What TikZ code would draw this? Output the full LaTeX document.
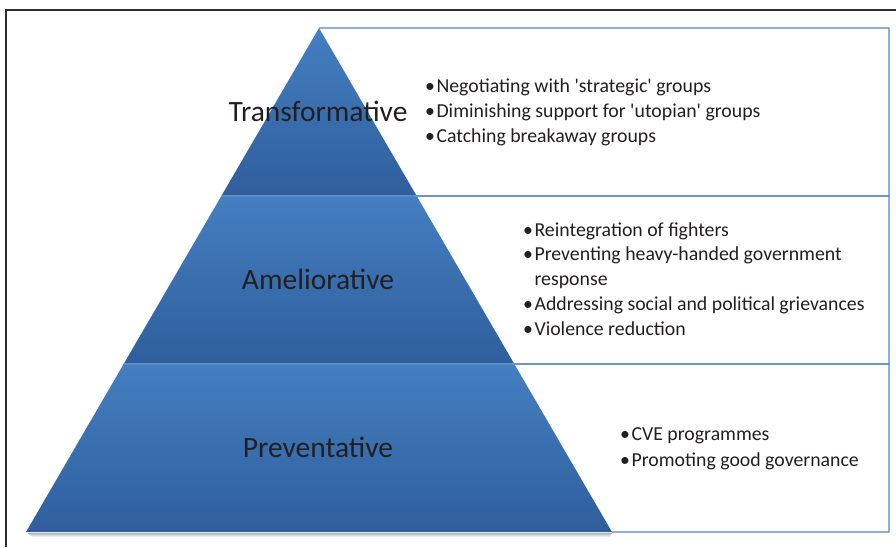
\documentclass[tikz,border=0pt]{standalone}
\usepackage{fontspec}
\setmainfont{Carlito}
\usetikzlibrary{calc}

\definecolor{framegray}{RGB}{45,45,45}
\definecolor{boxblue}{RGB}{86,134,192}
\definecolor{txtgray}{RGB}{35,31,32}
\definecolor{bandtop}{RGB}{68,127,193}
\definecolor{bandmid}{RGB}{42,110,180}
\definecolor{bandbot}{RGB}{47,94,156}
\definecolor{seplight}{RGB}{96,140,200}

\newcommand\sq[1]{\textquotesingle#1\textquotesingle}
\newcommand\bul{\textbullet\hspace{1.5pt}}
\def\bandsep{168}

\begin{document}
\begin{tikzpicture}[
    x=1pt, y=-1pt,
    frame/.style={draw=framegray, line width=1.3pt},
    box/.style={draw=boxblue, line width=1.2pt},
    band/.style={top color=bandtop, middle color=bandmid, bottom color=bandbot},
    sepline/.style={draw=seplight, line width=1.5pt},
    level/.style={font=\fontsize{29.5}{35}\selectfont, text=txtgray, inner sep=0pt},
    item/.style={font=\fontsize{19.8}{24}\selectfont, text=txtgray, inner sep=0pt, anchor=base west}
]
    \useasboundingbox (0,0) rectangle (896,547);

    % Outer frame (cut off at the right and bottom)
    \draw[frame] (6,547) -- (6,10) -- (896,10);

    % Corner points of the pyramid
    \coordinate (apex) at (319,28);
    \coordinate (base-l) at (26,532);
    \coordinate (base-r) at (612,532);
    \foreach \i in {0,...,3}
        \coordinate (R-\i) at ($(apex)!\i/3!(base-r)$);

    % Draw the text boxes behind the pyramid
    \foreach \i [evaluate=\i as \j using int(\i+1)] in {0,1,2}
        \draw[box] (R-\i) -- (889,28+\bandsep*\i) -- (889,28+\bandsep*\j) -- (R-\j);

    % Shadow under the base
    \foreach \k/\op in {1/0.30,2/0.22,3/0.14,4/0.07}
        \draw[black, opacity=\op, line width=1pt]
            ($(base-l)+(\k*1.5,\k)$) -- ($(base-r)+(-\k*0.5,\k)$);

    % Draw the pyramid bands
    \begin{scope}
        \clip (apex) -- (base-l) -- (base-r) -- cycle;
        \foreach \i in {0,1,2}
            \shade[band] (0,28+\bandsep*\i) rectangle (896,28+\bandsep*\i+\bandsep);
        \foreach \i in {1,2}
            \draw[sepline] (0,28+\bandsep*\i) -- (896,28+\bandsep*\i);
    \end{scope}

    % Annotate the levels
    \node[level] (transformative) at (318,111) {Transformative};
    \node[level] (ameliorative) at (318,279) {Ameliorative};
    \node[level] (preventative) at (318,447) {Preventative};

    % Bullet lists in the boxes
    \foreach \txt [count=\k from 0] in {%
            \bul Negotiating with \sq{strategic} groups,
            \bul Diminishing support for \sq{utopian} groups,
            \bul Catching breakaway groups}
        \node[item] (trans-\k) at (425,92.5+25.2*\k) {\txt};

    \foreach \txt [count=\k from 0] in {%
            \bul Reintegration of fighters,
            \bul Preventing heavy-handed government,
            \phantom{\bul}response,
            \bul Addressing social and political grievances,
            \bul Violence reduction}
        \node[item] (amel-\k) at (523,236+24.75*\k) {\txt};

    \foreach \txt [count=\k from 0] in {%
            \bul CVE programmes,
            \bul Promoting good governance}
        \node[item] (prev-\k) at (620,440.7+26*\k) {\txt};
\end{tikzpicture}
\end{document}
